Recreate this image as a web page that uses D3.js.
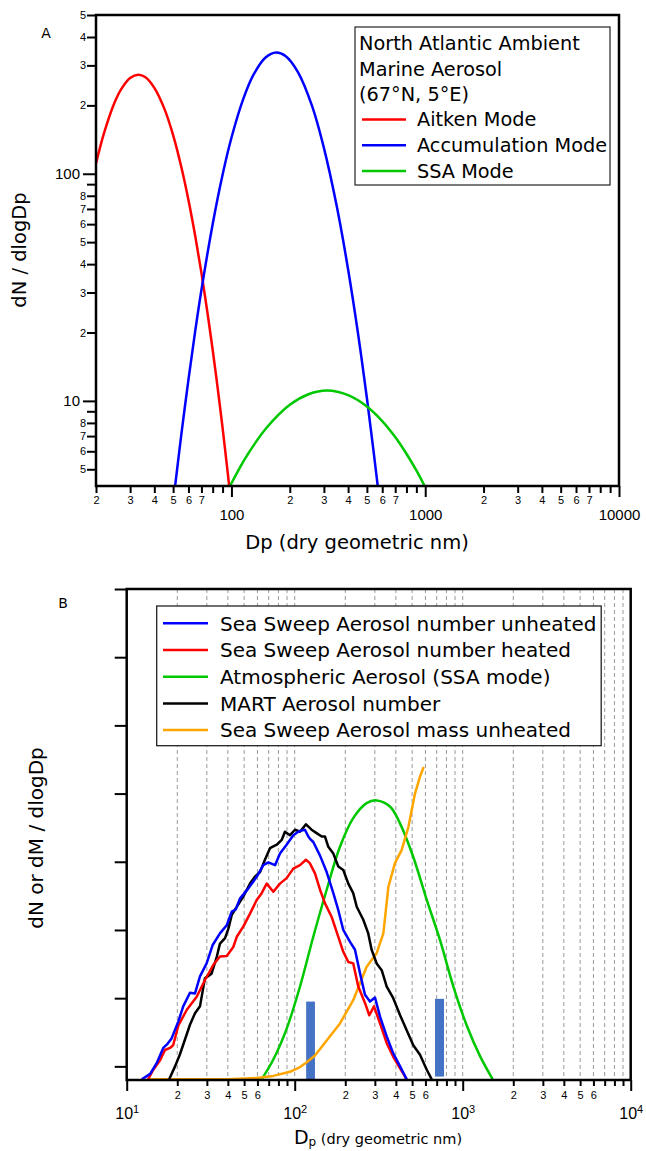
<!DOCTYPE html>
<html>
<head>
<meta charset="utf-8">
<script src="https://cdn.jsdelivr.net/npm/d3@7"></script>
<style>
  body { margin: 0; background: #fff; }
  svg { font-family: "DejaVu Sans", sans-serif; }
</style>
</head>
<body>
<div id="chart"></div>
<script>
// ---- panel A : modes of the ambient marine aerosol
var aitkenDp = [20, 22, 25, 27, 30, 33, 36, 40, 45, 50, 55, 60, 65, 70, 75, 80, 85, 90, 95, 98];
var aitkenN  = [111, 151, 207, 236, 264, 273, 266, 239, 194, 148, 108, 76.7, 53.3, 36.6, 24.8, 16.8, 11.3, 7.6, 5.1, 4.0];

var accumDp = [51, 55, 60, 65, 70, 80, 90, 100, 115, 130, 150, 170, 190, 220, 260, 300, 350, 400, 450, 500, 540, 575];
var accumN  = [4.1, 7.0, 12.4, 20.3, 30.8, 60, 99, 144, 213, 273, 325, 342, 330, 281, 200, 130, 71.5, 37.9, 19.8, 10.3, 6.1, 3.9];

var ssaDp = [98, 110, 120, 150, 200, 250, 312, 400, 500, 600, 700, 800, 900, 1000];
var ssaN  = [4.2, 5.05, 5.73, 7.52, 9.61, 10.7, 11.1, 10.6, 9.45, 8.15, 6.93, 5.85, 4.94, 4.17];

var aTitleLines = ["North Atlantic Ambient", "Marine Aerosol", "(67\u00B0N, 5\u00B0E)"];
var aLegend = ["Aitken Mode", "Accumulation Mode", "SSA Mode"];
var aColors = ["#ff0000", "#0000ff", "#00c800"];

var aMajorX = [100, 1000, 10000];
var aMinorX = [20, 30, 40, 50, 60, 70, 80, 90, 200, 300, 400, 500, 600, 700, 800, 900,
               2000, 3000, 4000, 5000, 6000, 7000, 8000, 9000];
var aMajorY = [10, 100];
var aMinorY = [5, 6, 7, 8, 9, 20, 30, 40, 50, 60, 70, 80, 90, 200, 300, 400, 500];

// ---- panel B : size distributions [Dp nm, dN or dM / dlogDp in tick units]
var unheatedNumber = [[12.3,-0.19],[13.8,-0.11],[15.1,0.05],[16.5,0.27],[17.5,0.33],[18.5,0.41],[20.3,0.66],[21.7,0.88],
  [23.8,1.08],[25.5,1.07],[27.3,1.32],[29.9,1.51],[32.5,1.78],[35.9,1.95],[39.4,2.07],[42.2,2.27],[44.5,2.3],[47.2,2.46],
  [53,2.61],[59.4,2.78],[65,2.95],[69.7,2.99],[76.4,2.95],[81.7,3.12],[89.5,3.25],[98.1,3.39],[105,3.44],[110,3.46],
  [115,3.47],[120.5,3.37],[123,3.34],[129,3.29],[141.5,3.09],[155,2.85],[169.8,2.54],[181.8,2.29],[194.6,2.0],
  [213,1.83],[228.5,1.71],[245,1.36],[262,1.05],[280.6,0.95],[300.6,1.01],[322,0.73],[353,0.44],[386,0.19],[424,0.0],[464,-0.19]];

var heatedNumber = [[13.4,-0.19],[14.4,-0.05],[15.8,0.09],[16.9,0.24],[18.1,0.27],[18.9,0.31],[20.3,0.6],[22.8,0.83],
  [26.1,1.02],[29.3,1.27],[32.8,1.49],[35.9,1.61],[39.4,1.62],[43.1,1.75],[45.2,1.9],[49.4,2.05],[54.2,2.24],[59.4,2.44],
  [63.6,2.54],[68.1,2.68],[74.6,2.56],[81.7,2.68],[89.5,2.76],[98.1,2.9],[107.5,2.95],[116.7,3.03],[123,2.98],[132,2.83],
  [141.5,2.59],[151.5,2.39],[166,2.19],[181.8,1.9],[194.6,1.68],[208.5,1.53],[223,1.51],[239,1.17],[262,0.93],[278,0.75],
  [296.5,0.88],[322,0.63],[353,0.34],[386,0.14],[424,-0.03],[464,-0.19]];

var ssaMode = [[63.6,-0.19],[74.6,0.1],[89.5,0.55],[107.5,1.17],[129,1.9],[155,2.59],[186,3.22],[223,3.64],[268,3.86],
  [307.5,3.9],[369,3.81],[424,3.56],[508,3.07],[611,2.44],[733,1.85],[880,1.17],[1057,0.6],[1268,0.15],[1509,-0.19]];

var martNumber = [[17.9,-0.19],[19.4,0.0],[20.7,0.17],[22.2,0.39],[23.8,0.61],[25.5,0.78],[27.3,0.88],[29.2,1.29],[32,1.36],
  [34.4,1.61],[35.9,1.8],[38.5,1.88],[40.3,2.02],[42.2,2.22],[45.2,2.34],[49.4,2.49],[54.2,2.68],[58,2.78],[62.2,2.85],
  [66.5,3.03],[71.3,3.2],[78.2,3.25],[83.7,3.32],[87.5,3.44],[93.7,3.39],[100.4,3.47],[107.5,3.44],[116.7,3.55],[126,3.47],
  [135,3.42],[144.8,3.37],[151.5,3.37],[158.5,3.22],[169.8,3.12],[181.8,2.93],[194.6,2.88],[208.5,2.68],[223,2.54],
  [234,2.34],[256,2.15],[274,1.95],[287,1.71],[307.5,1.51],[329.5,1.41],[353,1.17],[386,1.0],[424,0.75],[464,0.53],
  [508,0.31],[557,0.17],[611,-0.05],[654,-0.19]];

var unheatedMass = [[13.4,-0.19],[40,-0.19],[59.4,-0.17],[74.6,-0.14],[93.7,-0.08],[107.5,-0.01],[117.9,0.06],[132,0.16],
  [155,0.38],[186,0.63],[223,0.97],[268,1.46],[307.5,1.66],[337,1.95],[361,2.63],[395,2.98],[433,3.17],[475,3.51],
  [520,4.0],[557,4.25],[586,4.39]];

// blue marker bars [Dp from, Dp to, bottom, top]
var bars = [[117, 132, -0.2, 0.95], [684, 774, -0.15, 0.99]];

var bLegend = ["Sea Sweep Aerosol number unheated", "Sea Sweep Aerosol number heated",
  "Atmospheric Aerosol (SSA mode)", "MART Aerosol number", "Sea Sweep Aerosol mass unheated"];
var bColors = ["#0000ff", "#ff0000", "#00c800", "#000000", "#ffa500"];

var bMajorX = [10, 100, 1000, 10000];
var bMinorX = [20, 30, 40, 50, 60, 70, 80, 90, 200, 300, 400, 500, 600, 700, 800, 900,
               2000, 3000, 4000, 5000, 6000, 7000, 8000, 9000];
var bTicksY = [0, 1, 2, 3, 4, 5, 6, 7];

function leadDigit(d) {
  return Math.round(d / Math.pow(10, Math.floor(Math.log10(d) + 1e-9)));
}

var svg = d3.select("#chart").append("svg").attr("width", 646).attr("height", 1151);

// ================= panel A =================
var xA = d3.scaleLog().domain([20, 10000]).range([96, 619]);
var yA = d3.scaleLog().domain([4.22, 500]).range([486, 15]);

svg.append("clipPath").attr("id", "clipA").append("rect")
  .attr("x", 96).attr("y", 15).attr("width", 523).attr("height", 471);

var lineA = d3.line().x(function (d) { return xA(d[0]); }).y(function (d) { return yA(d[1]); })
  .curve(d3.curveCatmullRom);

[[aitkenDp, aitkenN], [accumDp, accumN], [ssaDp, ssaN]].forEach(function (s, i) {
  svg.append("path")
    .datum(d3.zip(s[0], s[1]))
    .attr("clip-path", "url(#clipA)")
    .attr("fill", "none").attr("stroke", aColors[i]).attr("stroke-width", 2.5)
    .attr("d", lineA);
});

// x axis A
var gx = svg.append("g").attr("transform", "translate(0,486)")
  .call(d3.axisBottom(xA).tickValues(aMinorX).tickSize(7).tickPadding(3)
    .tickFormat(function (d) { var k = leadDigit(d); return k < 8 ? k : ""; }));
gx.style("font-size", "11px");
var gx2 = svg.append("g").attr("transform", "translate(0,486)")
  .call(d3.axisBottom(xA).tickValues(aMajorX).tickSize(11).tickPadding(12).tickFormat(d3.format("d")));
gx2.style("font-size", "15px");

// y axis A
var gy = svg.append("g").attr("transform", "translate(96,0)")
  .call(d3.axisLeft(yA).tickValues(aMinorY).tickSize(9).tickPadding(1)
    .tickFormat(function (d) { var k = leadDigit(d); return k < 9 ? k : ""; }));
gy.style("font-size", "11px");
var gy2 = svg.append("g").attr("transform", "translate(96,0)")
  .call(d3.axisLeft(yA).tickValues(aMajorY).tickSize(13).tickPadding(3).tickFormat(d3.format("d")));
gy2.style("font-size", "15px");

// frame A
svg.append("path").attr("d", "M96,15V486H619V15Z").attr("fill", "none")
  .attr("stroke", "#000").attr("stroke-width", 2.5);

svg.append("text").attr("x", 46).attr("y", 38).attr("text-anchor", "middle")
  .style("font-size", "14px").text("A");

svg.append("text").attr("transform", "translate(26,250) rotate(-90)").attr("text-anchor", "middle")
  .style("font-size", "19.5px").text("dN / dlogDp");
svg.append("text").attr("x", 357).attr("y", 549).attr("text-anchor", "middle")
  .style("font-size", "19.5px").text("Dp (dry geometric nm)");

// legend A
svg.append("rect").attr("x", 355).attr("y", 27).attr("width", 255).attr("height", 158)
  .attr("fill", "#fff").attr("stroke", "#222").attr("stroke-width", 1.2);
aTitleLines.forEach(function (t, i) {
  svg.append("text").attr("x", 359).attr("y", 43 + i * 25.6).attr("dy", "0.36em")
    .style("font-size", "19.3px").text(t);
});
aLegend.forEach(function (t, i) {
  var yy = 119.5 + i * 25.8;
  svg.append("line").attr("x1", 362).attr("x2", 406).attr("y1", yy).attr("y2", yy)
    .attr("stroke", aColors[i]).attr("stroke-width", 2.5);
  svg.append("text").attr("x", 417).attr("y", yy).attr("dy", "0.36em")
    .style("font-size", "19.3px").text(t);
});

// ================= panel B =================
var xB = d3.scaleLog().domain([10, 10000]).range([126.7, 630.7]);
var yB = d3.scaleLinear().domain([-0.2, 7]).range([1080, 589]);

svg.append("clipPath").attr("id", "clipB").append("rect")
  .attr("x", 126.7).attr("y", 589).attr("width", 504).attr("height", 491);

// dashed grid
svg.append("g").selectAll("line").data(bMinorX.concat([100, 1000])).join("line")
  .attr("x1", function (d) { return xB(d); }).attr("x2", function (d) { return xB(d); })
  .attr("y1", 589).attr("y2", 1080)
  .attr("stroke", "#9a9a9a").attr("stroke-width", 1).attr("stroke-dasharray", "4,3");

svg.append("g").selectAll("rect").data(bars).join("rect")
  .attr("x", function (d) { return xB(d[0]); })
  .attr("width", function (d) { return xB(d[1]) - xB(d[0]); })
  .attr("y", function (d) { return yB(d[3]); })
  .attr("height", function (d) { return yB(d[2]) - yB(d[3]); })
  .attr("fill", "#4472c4");

var lineB = d3.line().x(function (d) { return xB(d[0]); }).y(function (d) { return yB(d[1]); });

var bSeries = [unheatedNumber, heatedNumber, ssaMode, martNumber, unheatedMass];
var bOrder = [2, 4, 3, 1, 0];
bOrder.forEach(function (i) {
  svg.append("path")
    .datum(bSeries[i])
    .attr("clip-path", "url(#clipB)")
    .attr("fill", "none").attr("stroke", bColors[i]).attr("stroke-width", 2.5)
    .attr("stroke-linejoin", "round")
    .attr("d", i === 2 ? lineB.curve(d3.curveCatmullRom)(bSeries[i]) : lineB.curve(d3.curveLinear)(bSeries[i]));
});

var bx = svg.append("g").attr("transform", "translate(0,1080)")
  .call(d3.axisBottom(xB).tickValues(bMinorX).tickSize(6).tickPadding(5)
    .tickFormat(function (d) { var k = leadDigit(d); return k < 7 ? k : ""; }));
bx.style("font-size", "11px");
var bx2 = svg.append("g").attr("transform", "translate(0,1080)")
  .call(d3.axisBottom(xB).tickValues(bMajorX).tickSize(11).tickPadding(17).tickFormat(""));
bx2.style("font-size", "16px");
bx2.selectAll(".tick text").each(function (d) {
  var t = d3.select(this);
  t.text("10");
  t.append("tspan").attr("dy", "-0.55em").style("font-size", "11px").text(Math.round(Math.log10(d)));
});

svg.append("g").attr("transform", "translate(126.7,0)")
  .call(d3.axisLeft(yB).tickValues(bTicksY).tickSize(12).tickFormat(""));

svg.append("path").attr("d", "M126.7,589V1080H630.7V589Z").attr("fill", "none")
  .attr("stroke", "#000").attr("stroke-width", 2.5);

svg.selectAll(".domain").remove();
svg.selectAll(".tick line").attr("stroke-width", 2);

svg.append("text").attr("x", 63).attr("y", 608).attr("text-anchor", "middle")
  .style("font-size", "14px").text("B");

svg.append("text").attr("transform", "translate(43,838) rotate(-90)").attr("text-anchor", "middle")
  .style("font-size", "20px").text("dN or dM / dlogDp");
var bt = svg.append("text").attr("x", 378).attr("y", 1144).attr("text-anchor", "middle")
  .style("font-size", "19px");
bt.append("tspan").text("D");
bt.append("tspan").attr("dy", "0.2em").style("font-size", "12px").text("p");
bt.append("tspan").attr("dy", "-0.2em").style("font-size", "14.5px").text(" (dry geometric nm)");

// legend B
svg.append("rect").attr("x", 156.7).attr("y", 606).attr("width", 444.5).attr("height", 139.7)
  .attr("fill", "#fff").attr("stroke", "#222").attr("stroke-width", 1.3);
bLegend.forEach(function (t, i) {
  var yy = 623.3 + i * 26.7;
  svg.append("line").attr("x1", 163).attr("x2", 208).attr("y1", yy).attr("y2", yy)
    .attr("stroke", bColors[i]).attr("stroke-width", 2.5);
  svg.append("text").attr("x", 220).attr("y", yy).attr("dy", "0.36em")
    .style("font-size", "20px").text(t);
});
</script>
</body>
</html>
